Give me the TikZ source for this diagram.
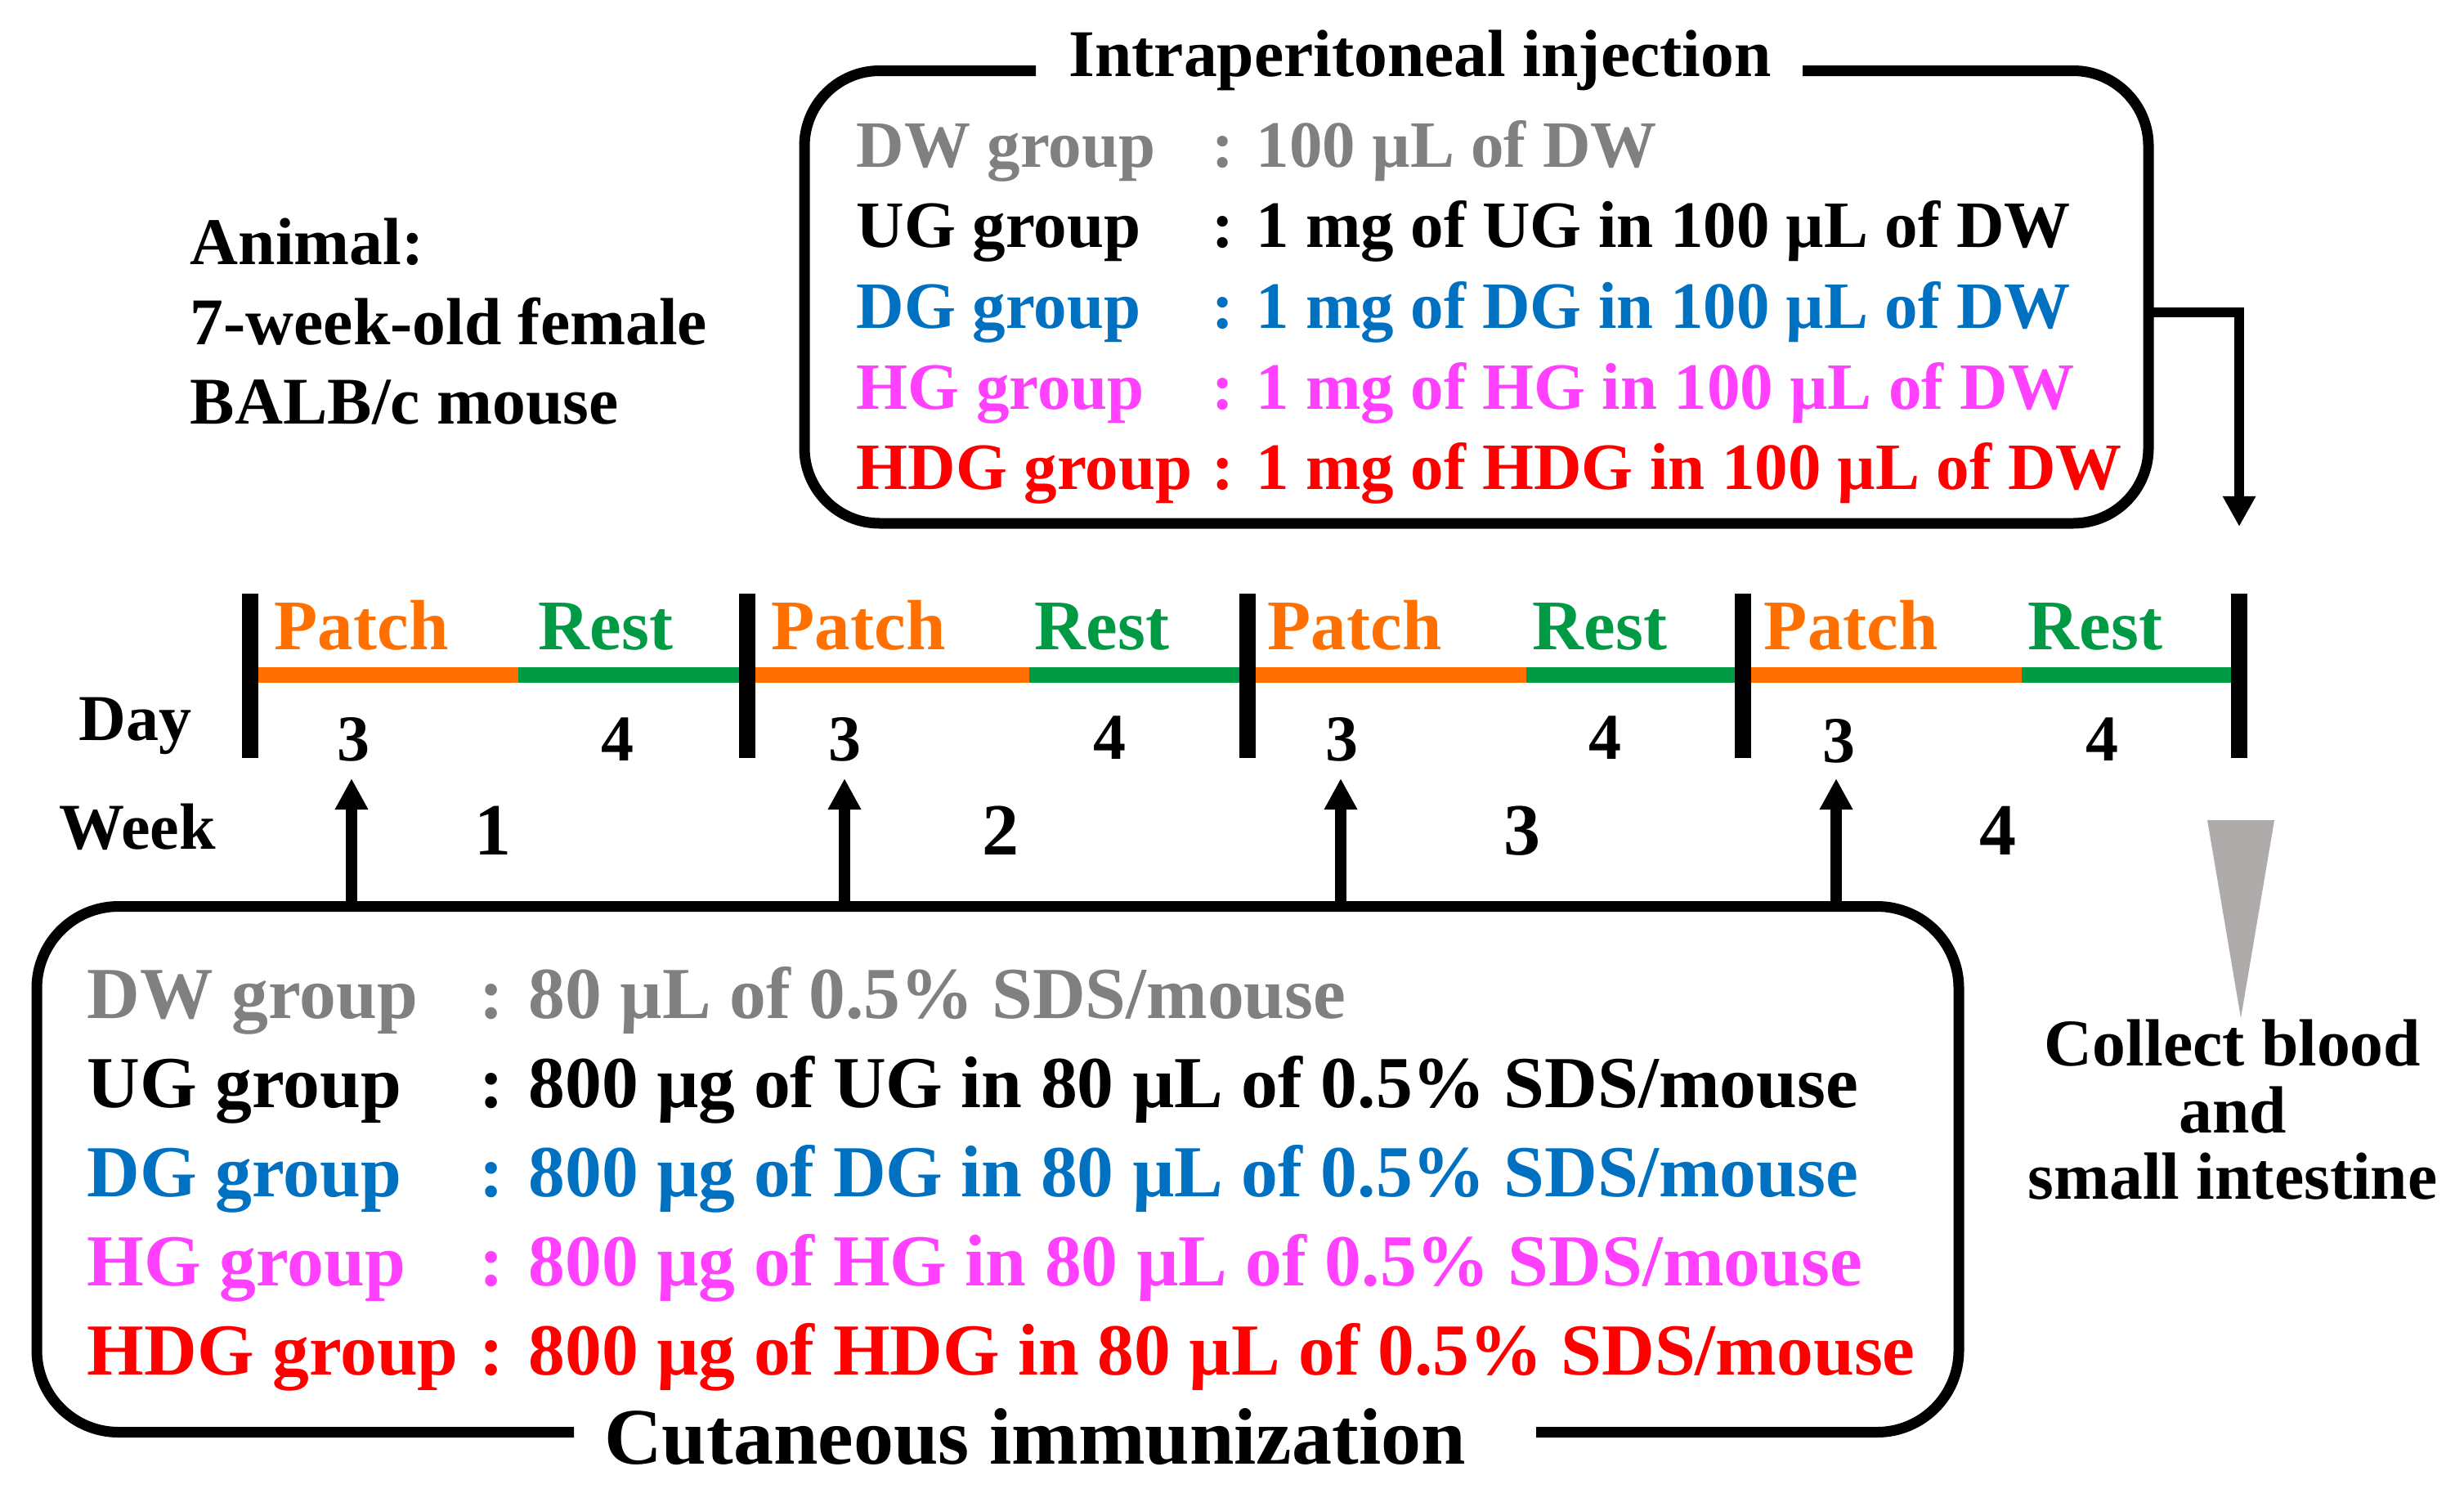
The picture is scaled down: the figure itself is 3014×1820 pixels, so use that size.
\documentclass[tikz,border=0pt]{standalone}
\usepackage{fontspec}
\setmainfont{Liberation Serif}
\usetikzlibrary{arrows.meta}
\definecolor{dwgray}{RGB}{128,128,128}
\definecolor{dgblue}{RGB}{0,112,192}
\definecolor{hgpink}{RGB}{255,64,255}
\definecolor{hdgred}{RGB}{255,0,0}
\definecolor{patchorange}{RGB}{255,112,0}
\definecolor{restgreen}{RGB}{0,153,68}
\definecolor{tipgray}{RGB}{175,171,171}
\newcommand{\fsMain}{\fontsize{20.4pt}{24pt}\selectfont\bfseries}
\newcommand{\fsBox}{\fontsize{20.25pt}{24pt}\selectfont\bfseries}
\newcommand{\fsCut}{\fontsize{22.4pt}{27pt}\selectfont\bfseries}
\newcommand{\fsCutTitle}{\fontsize{24.5pt}{29pt}\selectfont\bfseries}
\newcommand{\fsPR}{\fontsize{21.75pt}{26pt}\selectfont\bfseries}
\newcommand{\fsDay}{\fontsize{20pt}{24pt}\selectfont\bfseries}
\newcommand{\fsWeek}{\fontsize{22.5pt}{27pt}\selectfont\bfseries}
\begin{document}
\begin{tikzpicture}[x=0.25pt,y=-0.25pt,
  boxline/.style={line width=3.25pt},
  conn/.style={line width=3.2pt,-{Triangle[width=9.5pt,length=9.3pt]}},
  upconn/.style={line width=3.5pt,-{Triangle[width=9.5pt,length=9.5pt]}},
  tickbar/.style={line width=4.9pt},
  seg/.style={line width=4.75pt},
  lbl/.style={inner sep=0pt,anchor=base west},
  ctr/.style={inner sep=0pt,anchor=base}]
\useasboundingbox (0,0) rectangle (3014,1820);

% ---------- Animal ----------
\node[lbl,font=\fsMain] (animal1) at (232,323) {Animal:};
\node[lbl,font=\fsMain] (animal2) at (232,421) {7-week-old female};
\node[lbl,font=\fsMain] (animal3) at (232,518) {BALB/c mouse};

% ---------- Intraperitoneal box ----------
\draw[boxline,rounded corners=23pt] (1267,86.5) -- (984,86.5) -- (984,640) -- (2628,640) -- (2628,86.5) -- (2205,86.5);
\node[ctr,font=\fsMain] (iptitle) at (1737,93) {Intraperitoneal injection};
\node[lbl,font=\fsBox,text=dwgray] (ipl1) at (1047,204) {DW group};
\node[lbl,font=\fsBox,text=dwgray] (ipc1) at (1482,204) {: 100 µL of DW};
\node[lbl,font=\fsBox] (ipl2) at (1047,302) {UG group};
\node[lbl,font=\fsBox] (ipc2) at (1482,302) {: 1 mg of UG in 100 µL of DW};
\node[lbl,font=\fsBox,text=dgblue] (ipl3) at (1047,401) {DG group};
\node[lbl,font=\fsBox,text=dgblue] (ipc3) at (1482,401) {: 1 mg of DG in 100 µL of DW};
\node[lbl,font=\fsBox,text=hgpink] (ipl4) at (1047,500) {HG group};
\node[lbl,font=\fsBox,text=hgpink] (ipc4) at (1482,500) {: 1 mg of HG in 100 µL of DW};
\node[lbl,font=\fsBox,text=hdgred] (ipl5) at (1047,598) {HDG group};
\node[lbl,font=\fsBox,text=hdgred] (ipc5) at (1482,598) {: 1 mg of HDG in 100 µL of DW};

% connector from box to end of timeline
\coordinate (ipR) at (2628,382);
\coordinate (endtip) at (2739,644);
\draw[conn] (ipR) -| (endtip);

% ---------- Timeline ----------
\draw[seg,patchorange] (306,825) -- (634,825);
\draw[seg,restgreen] (634,825) -- (914,825);
\draw[seg,patchorange] (914,825) -- (1259,825);
\draw[seg,restgreen] (1259,825) -- (1526,825);
\draw[seg,patchorange] (1526,825) -- (1867,825);
\draw[seg,restgreen] (1867,825) -- (2132,825);
\draw[seg,patchorange] (2132,825) -- (2473,825);
\draw[seg,restgreen] (2473,825) -- (2739,825);

\foreach \bx/\bn in {306/1,914/2,1526/3,2132/4,2739/5}{
  \coordinate (bar\bn t) at (\bx,726);
  \coordinate (bar\bn b) at (\bx,927);
  \draw[tickbar] (bar\bn t) -- (bar\bn b);
}

\node[lbl,font=\fsPR,text=patchorange] (patch1) at (335,794) {Patch};
\node[lbl,font=\fsPR,text=restgreen] (rest1) at (658,794) {Rest};
\node[lbl,font=\fsPR,text=patchorange] (patch2) at (943,794) {Patch};
\node[lbl,font=\fsPR,text=restgreen] (rest2) at (1265,794) {Rest};
\node[lbl,font=\fsPR,text=patchorange] (patch3) at (1550,794) {Patch};
\node[lbl,font=\fsPR,text=restgreen] (rest3) at (1874,794) {Rest};
\node[lbl,font=\fsPR,text=patchorange] (patch4) at (2157,794) {Patch};
\node[lbl,font=\fsPR,text=restgreen] (rest4) at (2480,794) {Rest};

\node[lbl,font=\fsDay] (daylbl) at (96,905) {Day};
\node[lbl,font=\fsDay] (weeklbl) at (72,1038) {Week};

\node[ctr,font=\fsDay] (d1a) at (432,930) {3};
\node[ctr,font=\fsDay] (d1b) at (755,930) {4};
\node[ctr,font=\fsDay] (d2a) at (1033,930) {3};
\node[ctr,font=\fsDay] (d2b) at (1357,928) {4};
\node[ctr,font=\fsDay] (d3a) at (1641,930) {3};
\node[ctr,font=\fsDay] (d3b) at (1963,928) {4};
\node[ctr,font=\fsDay] (d4a) at (2249,932) {3};
\node[ctr,font=\fsDay] (d4b) at (2571,930) {4};

\node[ctr,font=\fsWeek] (w1) at (603,1045) {1};
\node[ctr,font=\fsWeek] (w2) at (1224,1045) {2};
\node[ctr,font=\fsWeek] (w3) at (1862,1045) {3};
\node[ctr,font=\fsWeek] (w4) at (2444,1045) {4};

% ---------- up arrows ----------
\foreach \ax/\an in {430/1,1033/2,1640/3,2246/4}{
  \coordinate (up\an s) at (\ax,1108.5);
  \coordinate (up\an t) at (\ax,952);
  \draw[upconn] (up\an s) -- (up\an t);
}

% ---------- Cutaneous box ----------
\draw[boxline,rounded corners=25pt] (702,1751.5) -- (45,1751.5) -- (45,1108.5) -- (2396,1108.5) -- (2396,1751.5) -- (1879,1751.5);
\node[ctr,font=\fsCutTitle] (cuttitle) at (1266,1790) {Cutaneous immunization};
\node[lbl,font=\fsCut,text=dwgray] (cl1) at (106,1245) {DW group};
\node[lbl,font=\fsCut,text=dwgray] (cc1) at (586,1245) {: 80 µL of 0.5\% SDS/mouse};
\node[lbl,font=\fsCut] (cl2) at (106,1354) {UG group};
\node[lbl,font=\fsCut] (cc2) at (586,1354) {: 800 µg of UG in 80 µL of 0.5\% SDS/mouse};
\node[lbl,font=\fsCut,text=dgblue] (cl3) at (106,1463) {DG group};
\node[lbl,font=\fsCut,text=dgblue] (cc3) at (586,1463) {: 800 µg of DG in 80 µL of 0.5\% SDS/mouse};
\node[lbl,font=\fsCut,text=hgpink] (cl4) at (106,1572) {HG group};
\node[lbl,font=\fsCut,text=hgpink] (cc4) at (586,1572) {: 800 µg of HG in 80 µL of 0.5\% SDS/mouse};
\node[lbl,font=\fsCut,text=hdgred] (cl5) at (106,1681) {HDG group};
\node[lbl,font=\fsCut,text=hdgred] (cc5) at (586,1681) {: 800 µg of HDG in 80 µL of 0.5\% SDS/mouse};

% ---------- Collect ----------
\fill[tipgray] (2700,1003) -- (2782,1003) -- (2741,1245) -- cycle;
\node[ctr,font=\fsMain] (collect1) at (2731,1303) {Collect blood};
\node[ctr,font=\fsMain] (collect2) at (2731,1385) {and};
\node[ctr,font=\fsMain] (collect3) at (2731,1466) {small intestine};
\end{tikzpicture}
\end{document}
